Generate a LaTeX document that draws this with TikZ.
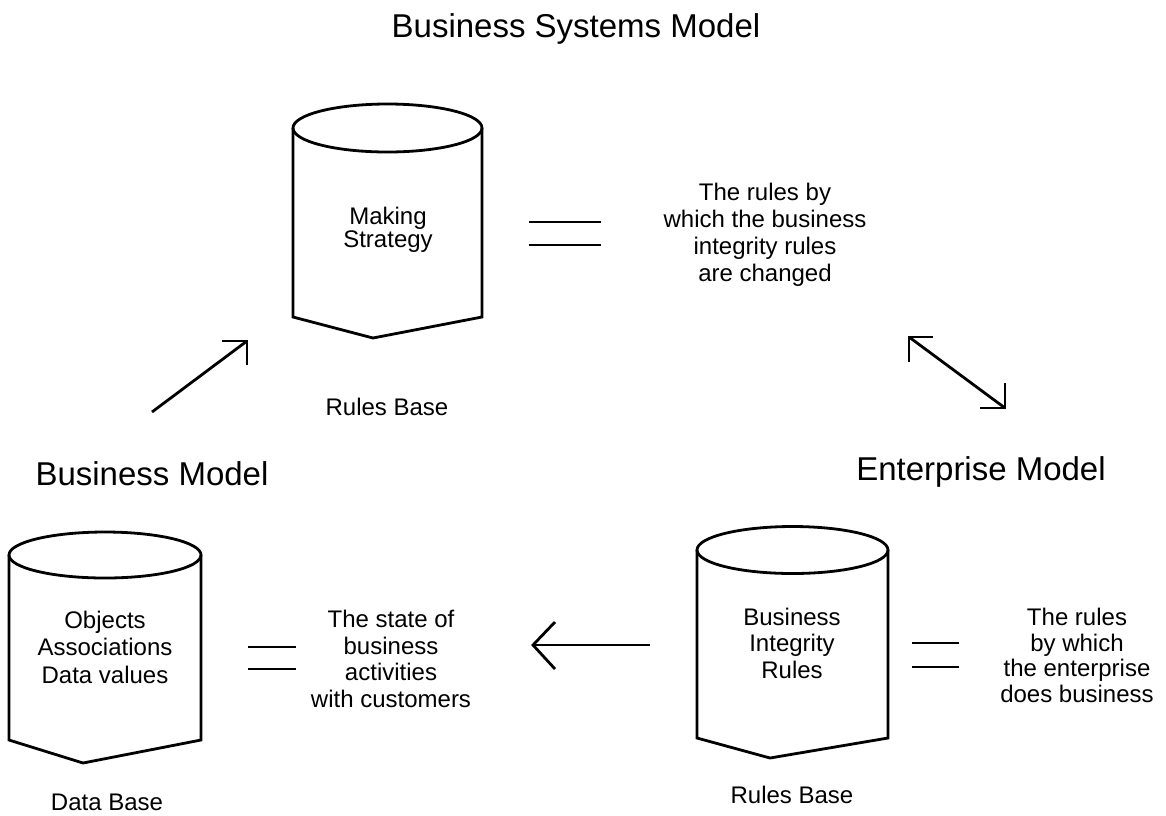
\documentclass[tikz,border=0pt]{standalone}
\usepackage{fontspec}
\setmainfont{Liberation Sans}
\begin{document}
\begin{tikzpicture}[x=1pt,y=-1pt,line width=2.8pt,
  title/.style={font=\fontsize{33}{38}\selectfont,inner sep=0pt,anchor=base},
  body/.style={font=\fontsize{24}{#1}\selectfont,align=center,inner sep=0pt},
  body/.default=27,
  label/.style={font=\fontsize{24}{27}\selectfont,inner sep=0pt,anchor=base}]
\fill[white] (0,0) rectangle (1166,815);
\useasboundingbox (0,0) rectangle (1166,815);

% titles
\node[title] (tsys) at (576,37) {Business Systems Model};
\node[title] (tbus) at (152,485) {Business Model};
\node[title] (tent) at (981,480) {Enterprise Model};

% rules base of the business systems model
\draw (293,128) -- (293,317) -- (373,338) -- (482,317) -- (482,128);
\draw (387.5,128) ellipse [x radius=94.5, y radius=24];
\node[body=23] (strat) at (388,230) {Making\\Strategy};
\node[label] (rb1) at (387,415) {Rules Base};
\draw (529,222) -- (601,222);
\draw (529,245) -- (601,245);
\node[body=27] (d1) at (765,235) {The rules by\\which the business\\integrity rules\\are changed};

% data base of the business model
\draw (9,555) -- (9,740) -- (83,763) -- (201,740) -- (201,555);
\draw (105,555) ellipse [x radius=96, y radius=23];
\node[body=27.5] (objs) at (105,647) {Objects\\Associations\\Data values};
\node[label] (db) at (107,810) {Data Base};
\draw (248,647) -- (296,647);
\draw (248,669) -- (296,669);
\node[body=26.7] (d2) at (391,659) {The state of\\business\\activities\\with customers};

% rules base of the enterprise model
\draw (697,550) -- (697,738) -- (770,758) -- (888,738) -- (888,550);
\draw (792.5,550) ellipse [x radius=95.5, y radius=23.5];
\node[body=26.5] (bir) at (792,643) {Business\\Integrity\\Rules};
\node[label] (rb2) at (792,803) {Rules Base};
\draw (912,643) -- (959,643);
\draw (912,667) -- (959,667);
\node[body=25.7] (d3) at (1077,655.5) {The rules\\by which\\the enterprise\\does business};

% arrows between the models
\coordinate (a1tail) at (152,412);
\coordinate (a1tip) at (247,341);
\draw (a1tail) -- (a1tip);
\draw (a1tip) ++(-25,0) -- (a1tip) -- ++(0,24);

\coordinate (a2a) at (909,337);
\coordinate (a2b) at (1005,408);
\draw (a2a) -- (a2b);
\draw (a2a) ++(24,0) -- (a2a) -- ++(0,25);
\draw (a2b) ++(-25,0) -- (a2b) -- ++(0,-25);

\coordinate (a3tail) at (650,645);
\coordinate (a3tip) at (533,645);
\draw (a3tail) -- (a3tip);
\draw (a3tip) ++(22,-23) -- (a3tip) -- ++(22,24);
\end{tikzpicture}
\end{document}
